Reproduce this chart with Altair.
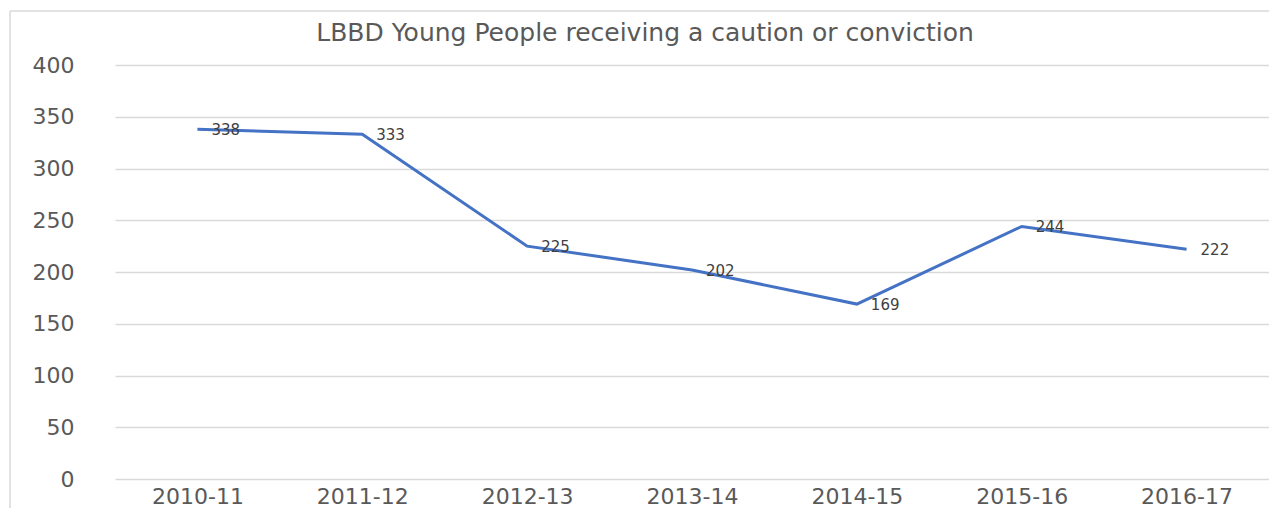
import altair as alt
import pandas as pd

years = ["2010-11", "2011-12", "2012-13", "2013-14", "2014-15", "2015-16", "2016-17"]
values = [338, 333, 225, 202, 169, 244, 222]
y_ticks = [0, 50, 100, 150, 200, 250, 300, 350, 400]
title_text = "LBBD Young People receiving a caution or conviction"

df = pd.DataFrame({"year": years, "value": values})

x_enc = alt.X("year:N", sort=years, title=None,
              scale=alt.Scale(paddingInner=0, paddingOuter=0.5),
              axis=alt.Axis(labelAngle=0, labelFontSize=22, labelColor="#595959",
                            labelFont="DejaVu Sans", labelPadding=7,
                            domain=False, ticks=False, grid=False))
y_enc = alt.Y("value:Q", title=None,
              scale=alt.Scale(domain=[0, 400], nice=False),
              axis=alt.Axis(values=y_ticks, labelFontSize=22, labelColor="#595959",
                            labelFont="DejaVu Sans", labelPadding=41,
                            domain=False, ticks=False, grid=True,
                            gridColor="#d9d9d9", gridWidth=1.3))

one = pd.DataFrame({"a": [0]})
frame_left = alt.Chart(one).mark_rule(color="#d9d9d9", strokeWidth=1.5).encode(
    x=alt.value(-105), y=alt.value(-54), y2=alt.value(470))
frame_top = alt.Chart(one).mark_rule(color="#d9d9d9", strokeWidth=1.5).encode(
    x=alt.value(-105), x2=alt.value(1154), y=alt.value(-54))

title = alt.Chart(pd.DataFrame({"t": [title_text]})).mark_text(
    fontSize=25, color="#595959", font="DejaVu Sans", align="center", baseline="middle"
).encode(x=alt.value(530), y=alt.value(-32), text="t:N")

line = alt.Chart(df).mark_line(color="#4472C4", strokeWidth=3).encode(x=x_enc, y=y_enc)

labels = alt.Chart(df).mark_text(
    align="left", baseline="middle", dx=14, dy=1, fontSize=15,
    color="#404040", font="DejaVu Sans"
).encode(x=alt.X("year:N", sort=years), y="value:Q", text="value:Q")

chart = alt.layer(frame_left, frame_top, title, line, labels).properties(
    width=1154, height=414,
    autosize=alt.AutoSizeParams(type="none"),
    padding={"left": 107, "top": 57, "right": 0, "bottom": 29},
).configure(background="white").configure_view(stroke="transparent", strokeWidth=0)

chart.save("out.html", embed_options={"renderer": "svg", "actions": False})
